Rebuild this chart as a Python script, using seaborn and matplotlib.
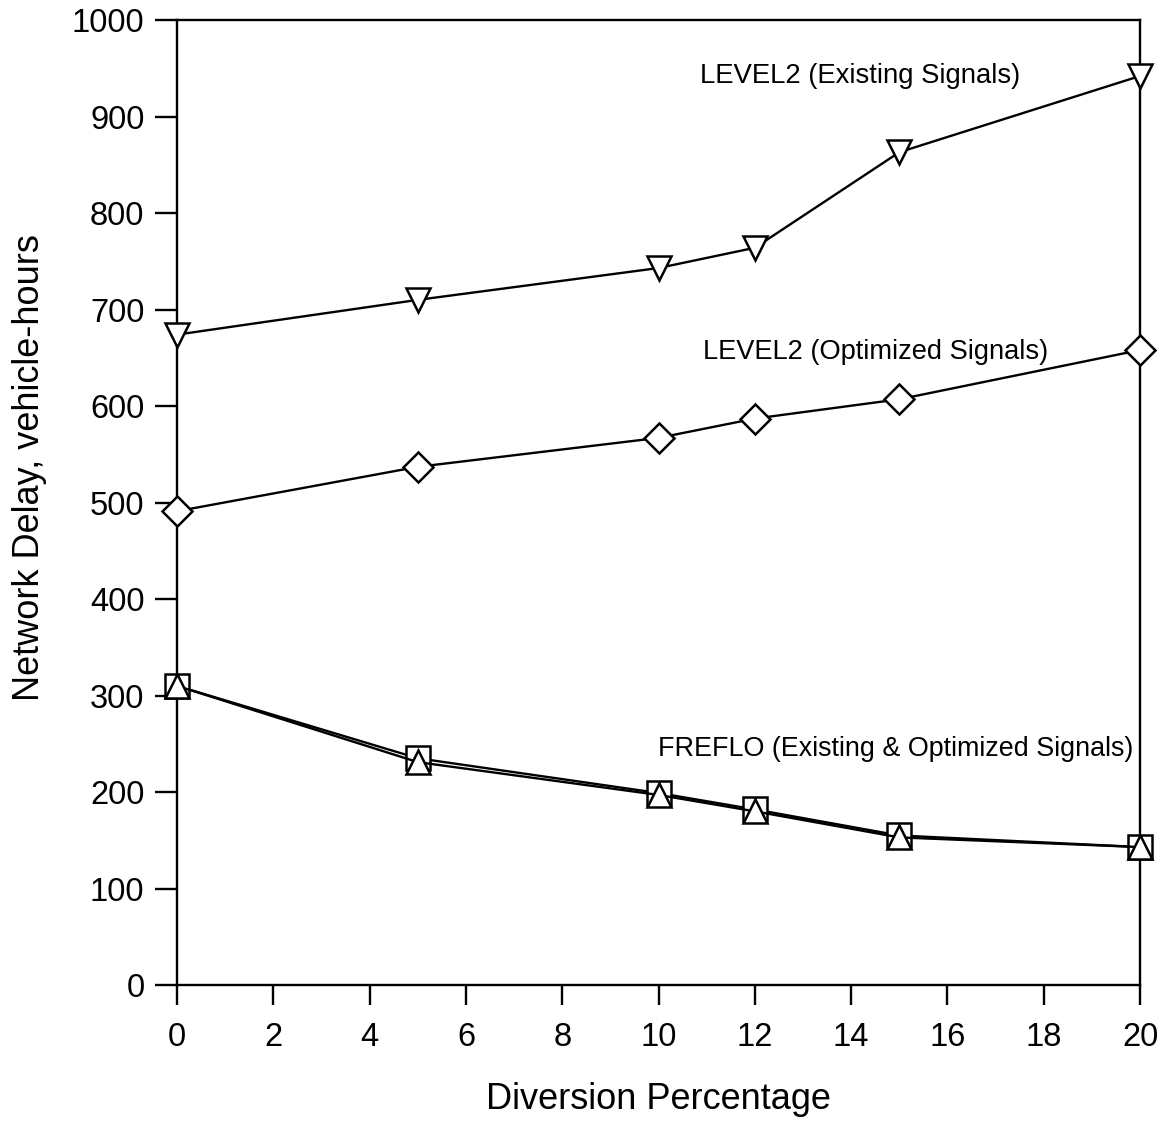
import matplotlib
matplotlib.use("Agg")
import matplotlib.pyplot as plt
import seaborn as sns
import pandas as pd

diversion = [0, 5, 10, 12, 15, 20]
level2_existing = [674, 710, 743, 764, 863, 942]
level2_optimized = [491, 537, 567, 587, 607, 658]
freflo_existing = [310, 235, 199, 182, 155, 143]
freflo_optimized = [310, 231, 197, 180, 153, 143]

xticks = list(range(0, 21, 2))
yticks = list(range(0, 1001, 100))

sns.set_style("ticks")
plt.rcParams['font.family'] = ['Liberation Sans', 'DejaVu Sans']
plt.rcParams['text.color'] = 'black'
plt.rcParams['axes.labelcolor'] = 'black'

fig = plt.figure(figsize=(11.67, 11.25), dpi=100)
ax = fig.add_axes([0.1517, 0.1244, 0.9769 - 0.1517, 0.9822 - 0.1244])

common = dict(color="black", linewidth=1.7, markerfacecolor="white",
              markeredgecolor="black", markeredgewidth=1.8, clip_on=False)

sns.lineplot(x=diversion, y=freflo_existing, marker="s", markersize=17, ax=ax, zorder=3, **common)
sns.lineplot(x=diversion, y=freflo_optimized, marker="^", markersize=17, ax=ax, zorder=4, **common)
sns.lineplot(x=diversion, y=level2_optimized, marker="D", markersize=15, ax=ax, zorder=4, **common)
sns.lineplot(x=diversion, y=level2_existing, marker="v", markersize=17, ax=ax, zorder=4, **common)

ax.set_xlim(0, 20)
ax.set_ylim(0, 1000)
ax.set_xticks(xticks)
ax.set_yticks(yticks)
ax.tick_params(axis="both", direction="out", width=1.7, colors="black", labelsize=23.5)
ax.tick_params(axis="x", length=14.5, pad=12)
ax.tick_params(axis="y", length=15.5, pad=8)
for s in ax.spines.values():
    s.set_linewidth(1.7)
    s.set_color("black")
    s.set_visible(True)

ax.set_xlabel("Diversion Percentage", fontsize=26, labelpad=21)
ax.set_ylabel("Network Delay, vehicle-hours", fontsize=26, labelpad=18)
ax.yaxis.label.set_y(0.536)

ax.text(10.86, 942, "LEVEL2 (Existing Signals)", fontsize=19.8, va="center", ha="left")
ax.text(10.92, 656, "LEVEL2 (Optimized Signals)", fontsize=19.6, va="center", ha="left")
ax.text(9.99, 245, "FREFLO (Existing & Optimized Signals)", fontsize=19.4, va="center", ha="left")

fig.savefig("out.png", dpi=100)
